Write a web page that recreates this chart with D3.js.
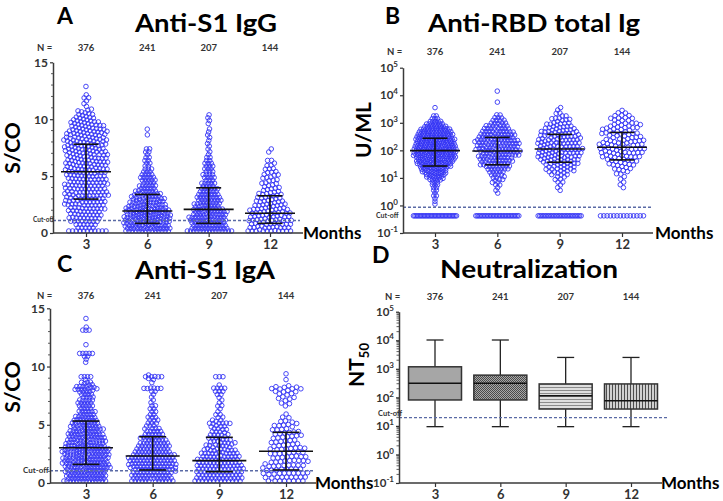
<!DOCTYPE html>
<html><head><meta charset="utf-8">
<script src="https://cdn.jsdelivr.net/npm/d3@7"></script>
<style>
body{margin:0;background:#fff;}
svg{display:block;font-family:Lato,"Open Sans",sans-serif;}
</style></head><body>
<svg id="chart" width="723" height="501"></svg>
<script>
// ---------------- DATA ----------------
const months = ["3", "6", "9", "12"];
const groupN = [376, 241, 207, 144];

// Anti-S1 IgG (S/CO): subjects per 0.25-wide bin, first bin starts at 0
const igGBin = 0.25;
const igGCounts3 = [12,4,2,4,8,8,8,8,9,9,9,9,11,11,11,10,10,10,9,9,9,9,10,10,10,10,10,9,9,9,9,10,10,11,10,10,9,8,7,6,5,4,3,1,1,1,1,2,1,0,0,1];
const igGCounts6 = [14,14,14,16,16,16,16,15,13,12,11,10,9,8,7,5,6,4,5,5,4,3,3,2,2,2,2,1,2,2,0,0,0,0,1,0,1];
const igGCounts9 = [16,12,11,12,12,12,12,12,8,8,7,8,8,7,6,6,4,5,3,4,4,3,3,3,3,2,2,1,1,1,1,1,1,1,1,1,1,0,1,1,1,1];
const igGCounts12 = [10,9,9,9,9,9,10,8,7,6,6,6,6,4,4,4,3,3,3,3,3,3,3,2,1,2,0,0,1,1];
const igGMedian = [5.38, 1.93, 2.08, 1.73];
const igGQ1 = [2.98, 0.85, 0.85, 0.85];
const igGQ3 = [7.8, 3.39, 3.97, 3.27];
const igGCutoff = 1.1;

// Anti-RBD total Ig (U/mL): subjects per 0.1-decade bin, first bin starts at log10 = rbdStart
const rbdBin = 0.1;
const rbdStart = [0.0, 0.4, 0.5, 0.6];
const rbdCounts3 = [1,1,1,2,1,2,2,3,3,5,7,9,10,12,14,16,18,20,22,22,22,22,22,20,18,16,14,12,9,7,5,3,2,0,0,1];
const rbdCounts6 = [1,1,1,2,2,3,3,4,5,7,8,9,10,11,12,13,14,14,14,13,12,11,10,8,7,5,4,3,2,0,0,0,0,1,0,0,0,1];
const rbdCounts9 = [1,1,1,2,2,2,3,5,7,7,8,9,9,10,11,11,11,11,10,10,9,8,7,6,5,4,3,2,2,1,1];
const rbdCounts12 = [1,1,1,1,1,2,2,3,3,5,6,6,7,8,10,9,8,7,7,6,6,6,5,5,4,4,3,2,1];
const rbdNegative = [32, 30, 28, 14];   // below cut-off, plotted on one row
const rbdNegValue = 0.42;
const rbdMedian = [98, 95, 112, 129];
const rbdQ1 = [27, 30, 37, 45];
const rbdQ3 = [275, 295, 380, 447];
const rbdCutoff = 0.86;

// Anti-S1 IgA (S/CO): subjects per 0.25-wide bin, first bin starts at 0
const igABin = 0.25;
const igACounts3 = [14,12,12,13,14,15,16,18,17,16,16,16,13,12,13,13,11,10,10,10,9,8,7,5,6,4,5,5,5,4,4,4,13,3,3,1,4,0,0,0,0,1,1,2,5,0,0,1,0,0,0,0,3,1,0,0,1];
const igACounts6 = [12,12,12,12,13,14,15,15,14,12,11,10,10,9,7,7,6,5,4,3,3,3,3,2,2,2,2,1,1,1,1,2,6,0,1,1,7];
const igACounts9 = [14,13,12,12,13,13,13,13,9,8,8,7,6,6,5,5,5,4,4,4,7,2,2,2,1,1,2,1,1,1,2,3,4,1,0,0,3];
const igACounts12 = [7,7,7,7,7,7,7,6,6,5,5,5,5,5,5,4,4,4,4,4,5,0,2,1,0,0,1,2,2,3,3,3,9,0,0,1,0,1];
const igAMedian = [3.03, 2.32, 1.92, 2.72];
const igAQ1 = [1.6, 1.12, 0.97, 1.12];
const igAQ3 = [5.32, 3.97, 3.92, 4.35];
const igACutoff = 1.05;

// Neutralization NT50 (box and whiskers, min to max)
const ntMin = [9.4, 9.4, 9.4, 9.4];
const ntQ1 = [81, 81, 39, 39];
const ntMedian = [310, 310, 114, 76];
const ntQ3 = [1175, 600, 295, 295];
const ntMax = [10200, 10200, 2500, 2500];
const ntCutoff = 19.5;

const linTicks = [0, 5, 10, 15];
const logTicks = [0.1, 1, 10, 100, 1000, 10000, 100000];

// ---------------- helpers ----------------
function expandLinear(counts, bin) {
  const out = [];
  counts.forEach((c, i) => { for (let k = 0; k < c; k++) out.push((i + 0.5) * bin); });
  return out;
}
function expandLog(counts, start, bin) {
  const out = [];
  counts.forEach((c, i) => { for (let k = 0; k < c; k++) out.push(Math.pow(10, start + (i + 0.5) * bin)); });
  return out;
}

function runSwarm(vals, y, cx, r, floor) {
  const nodes = vals.map((v, i) => ({ty: y(v), y: y(v), x: cx + ((i % 5) - 2) * 0.6}));
  const sim = d3.forceSimulation(nodes)
    .alphaDecay(0.03)
    .force("y", d3.forceY(d => d.ty).strength(0.9))
    .force("x", d3.forceX(cx).strength(0.06))
    .force("c", d3.forceCollide(r).iterations(2))
    .stop();
  for (let k = 0; k < 140; k++) {
    sim.tick();
    for (const n of nodes) if (n.y > floor) { n.y = floor; n.vy = 0; }
  }
  return nodes;
}
function swarm(vals, y, cx, maxHalf, floor) {
  let hi = 2.6, lo = 0.8;
  const spread = ns => d3.max(ns, d => Math.abs(d.x - cx)) || 0;
  let best = runSwarm(vals, y, cx, hi, floor);
  if (spread(best) <= maxHalf) return best;
  best = null;
  for (let it = 0; it < 5; it++) {
    const mid = (hi + lo) / 2;
    const ns = runSwarm(vals, y, cx, mid, floor);
    if (spread(ns) <= maxHalf) { best = ns; lo = mid; } else { hi = mid; }
  }
  return best || runSwarm(vals, y, cx, lo, floor);
}

const svg = d3.select("#chart");
const FONT = "Lato, 'Open Sans', sans-serif";
const DOT = "#3434f5";

function txt(x, y, s, size, opts = {}) {
  const t = svg.append("text").attr("x", x).attr("y", y).text(s)
    .style("font-family", FONT).style("font-size", size + "px")
    .style("font-weight", opts.weight || 700)
    .attr("fill", opts.fill || "#000")
    .attr("text-anchor", opts.anchor || "start");
  if (opts.len) t.attr("textLength", opts.len).attr("lengthAdjust", "spacingAndGlyphs");
  return t;
}
function vtxt(x, y, s, size) {
  return svg.append("text").attr("transform", `translate(${x},${y}) rotate(-90)`)
    .attr("text-anchor", "middle").text(s)
    .style("font-family", FONT).style("font-size", size + "px").style("font-weight", 700);
}

function styleAxis(g, fs) {
  g.attr("font-family", null).attr("font-size", null);
  g.selectAll("text").style("font-family", FONT).style("font-size", fs + "px")
    .style("font-weight", 700).attr("fill", "#333");
  g.selectAll(".tick line").attr("stroke", "#333").attr("stroke-width", 1.2);
  g.select(".domain").attr("stroke", "#3a3a3a").attr("stroke-width", 1.5);
}

function drawAxes(p) {
  const ya = svg.append("g").attr("transform", `translate(${p.ax},0)`);
  if (p.log) {
    ya.call(d3.axisLeft(p.y).tickValues(logTicks).tickSize(3).tickPadding(2).tickSizeOuter(0).tickFormat(() => "10"));
    styleAxis(ya, 11.5);
    ya.selectAll(".tick text").append("tspan").attr("dy", -5).style("font-size", "8px")
      .text(d => String(Math.round(Math.log10(d))));
    if (p.minor) {
      const mins = [];
      for (let e = -1; e < 5; e++) for (let m = 2; m < 10; m++) mins.push(m * Math.pow(10, e));
      ya.selectAll(".mt").data(mins).join("line").attr("class", "mt")
        .attr("x1", -2.5).attr("x2", 0).attr("y1", d => p.y(d)).attr("y2", d => p.y(d))
        .attr("stroke", "#333").attr("stroke-width", 0.8);
    }
  } else {
    ya.call(d3.axisLeft(p.y).tickValues(linTicks).tickSize(3).tickPadding(2).tickSizeOuter(0));
    styleAxis(ya, 12);
    const mins = d3.range(1, 15).filter(v => v % 5 !== 0);
    ya.selectAll(".mt").data(mins).join("line").attr("class", "mt")
      .attr("x1", -2).attr("x2", 0).attr("y1", d => p.y(d)).attr("y2", d => p.y(d))
      .attr("stroke", "#333").attr("stroke-width", 0.8);
  }
  const xa = svg.append("g").attr("transform", `translate(0,${p.ay})`);
  xa.call(d3.axisBottom(p.x).tickSize(4).tickPadding(3).tickSizeOuter(0));
  styleAxis(xa, 13);
  xa.select(".domain").remove();
  svg.append("line").attr("x1", p.ax).attr("x2", p.xEnd).attr("y1", p.ay).attr("y2", p.ay)
    .attr("stroke", "#3a3a3a").attr("stroke-width", 1.5);
  txt(p.mx, p.my, "Months", 17);
  txt(p.nx, p.ny, "N =", 9.5, {fill: "#333"});
  months.forEach((m, i) => txt(p.x(m), p.ny, String(groupN[i]), 9.5, {anchor: "middle", fill: "#333"}));
}

function cutoff(p, v, lx, ly, ls) {
  svg.append("line").attr("x1", p.ax).attr("x2", p.cEnd).attr("y1", p.y(v)).attr("y2", p.y(v))
    .attr("stroke", "#5a6aa5").attr("stroke-width", 1.4).attr("stroke-dasharray", "3,2");
  txt(lx, ly, "Cut-off", ls, {fill: "#333"});
}

function dotPanel(p, groups) {
  const gDots = svg.append("g");
  groups.forEach((vals, i) => {
    const cx = p.x(months[i]);
    const nodes = swarm(vals, p.y, cx, p.maxHalf, p.floor);
    gDots.selectAll(null).data(nodes).join("circle")
      .attr("cx", d => d.x).attr("cy", d => d.y).attr("r", 2.3)
      .attr("fill", "none").attr("stroke", DOT).attr("stroke-width", 0.9);
  });
  return gDots;
}
function summaryLines(p, med, q1, q3) {
  const g = svg.append("g").attr("stroke", "#111").attr("stroke-width", 1.6);
  months.forEach((m, i) => {
    const cx = p.x(m);
    g.append("line").attr("x1", cx).attr("x2", cx).attr("y1", p.y(q1[i])).attr("y2", p.y(q3[i]));
    g.append("line").attr("x1", cx - p.medHalf).attr("x2", cx + p.medHalf).attr("y1", p.y(med[i])).attr("y2", p.y(med[i]));
    [q1[i], q3[i]].forEach(v => g.append("line").attr("x1", cx - p.capHalf).attr("x2", cx + p.capHalf)
      .attr("y1", p.y(v)).attr("y2", p.y(v)));
  });
}

// ---------------- Panel A ----------------
const pA = {x: d3.scalePoint(months, [86, 270]), y: d3.scaleLinear([0, 15], [233, 62.3]),
  ax: 53, ay: 233, xEnd: 303, cEnd: 300, mx: 303, my: 239, nx: 37, ny: 51,
  maxHalf: 23.5, floor: 231, medHalf: 25, capHalf: 12.5};
txt(57, 24, "A", 23);
txt(135, 32, "Anti-S1 IgG", 25, {len: 142});
vtxt(20, 148, "S/CO", 21);
dotPanel(pA, [igGCounts3, igGCounts6, igGCounts9, igGCounts12].map(c => expandLinear(c, igGBin)));
cutoff(pA, igGCutoff, 33, 222, 6.5);
summaryLines(pA, igGMedian, igGQ1, igGQ3);
drawAxes(pA);

// ---------------- Panel B ----------------
const pB = {x: d3.scalePoint(months, [435, 622]), y: d3.scaleLog([0.1, 1e5], [233, 67.7]),
  log: true, minor: false, ax: 403, ay: 233, xEnd: 653, cEnd: 652, mx: 655, my: 239, nx: 387, ny: 55,
  maxHalf: 23, floor: 1e9, medHalf: 25, capHalf: 12.5};
txt(385, 24, "B", 23);
txt(428, 32, "Anti-RBD total Ig", 25, {len: 212});
vtxt(371, 130, "U/ML", 21);
const gB = dotPanel(pB, [rbdCounts3, rbdCounts6, rbdCounts9, rbdCounts12].map((c, i) => expandLog(c, rbdStart[i], rbdBin)));
months.forEach((m, i) => {
  const cx = pB.x(m), k = rbdNegative[i];
  const step = Math.min(4.6, 43 / (k - 1));
  gB.selectAll(null).data(d3.range(k)).join("circle")
    .attr("cx", j => cx + (j - (k - 1) / 2) * step).attr("cy", pB.y(rbdNegValue)).attr("r", 2.3)
    .attr("fill", "none").attr("stroke", DOT).attr("stroke-width", 0.9);
});
cutoff(pB, rbdCutoff, 376, 218, 7);
summaryLines(pB, rbdMedian, rbdQ1, rbdQ3);
drawAxes(pB);

// ---------------- Panel C ----------------
const pC = {x: d3.scalePoint(months, [86, 286]), y: d3.scaleLinear([0, 15], [483, 308.3]),
  ax: 50, ay: 483, xEnd: 316, cEnd: 314, mx: 315, my: 489, nx: 37, ny: 299,
  maxHalf: 25, floor: 481, medHalf: 27, capHalf: 13.5};
txt(57, 272, "C", 23);
txt(135, 279, "Anti-S1 IgA", 25, {len: 140});
vtxt(20, 387, "S/CO", 21);
dotPanel(pC, [igACounts3, igACounts6, igACounts9, igACounts12].map(c => expandLinear(c, igABin)));
cutoff(pC, igACutoff, 23, 473, 8);
summaryLines(pC, igAMedian, igAQ1, igAQ3);
drawAxes(pC);

// ---------------- Panel D ----------------
const pD = {x: d3.scalePoint(months, [435, 631]), y: d3.scaleLog([0.1, 1e5], [483, 311.7]),
  log: true, minor: true, ax: 399, ay: 483, xEnd: 662, cEnd: 668, mx: 661, my: 489, nx: 385, ny: 300};
txt(372, 263, "D", 23);
txt(440, 278, "Neutralization", 25, {len: 178});
const ntLab = svg.append("text").attr("transform", "translate(364,365) rotate(-90)").attr("text-anchor", "middle")
  .style("font-family", FONT).style("font-size", "21px").style("font-weight", 700);
ntLab.append("tspan").text("NT");
ntLab.append("tspan").attr("dy", 5).style("font-size", "13px").text("50");

const defs = svg.append("defs");
const pc = defs.append("pattern").attr("id", "chk").attr("width", 2).attr("height", 2).attr("patternUnits", "userSpaceOnUse");
pc.append("rect").attr("width", 2).attr("height", 2).attr("fill", "#a8a8a8");
pc.append("rect").attr("width", 1).attr("height", 1).attr("fill", "#4a4a4a");
pc.append("rect").attr("x", 1).attr("y", 1).attr("width", 1).attr("height", 1).attr("fill", "#4a4a4a");
const ph = defs.append("pattern").attr("id", "hst").attr("width", 4).attr("height", 3).attr("patternUnits", "userSpaceOnUse");
ph.append("rect").attr("width", 4).attr("height", 3).attr("fill", "#dedede");
ph.append("rect").attr("width", 4).attr("height", 1).attr("fill", "#8a8a8a");
const pv = defs.append("pattern").attr("id", "vst").attr("width", 3).attr("height", 4).attr("patternUnits", "userSpaceOnUse");
pv.append("rect").attr("width", 3).attr("height", 4).attr("fill", "#d0d0d0");
pv.append("rect").attr("width", 1).attr("height", 4).attr("fill", "#4e4e4e");
const boxFill = ["#a6a6a6", "url(#chk)", "url(#hst)", "url(#vst)"];

const gBox = svg.append("g");
months.forEach((m, i) => {
  const cx = pD.x(m), y = pD.y;
  gBox.append("line").attr("x1", cx).attr("x2", cx).attr("y1", y(ntMax[i])).attr("y2", y(ntQ3[i])).attr("stroke", "#222").attr("stroke-width", 1.3);
  gBox.append("line").attr("x1", cx).attr("x2", cx).attr("y1", y(ntQ1[i])).attr("y2", y(ntMin[i])).attr("stroke", "#222").attr("stroke-width", 1.3);
  [ntMax[i], ntMin[i]].forEach(v => gBox.append("line").attr("x1", cx - 8.5).attr("x2", cx + 8.5)
    .attr("y1", y(v)).attr("y2", y(v)).attr("stroke", "#222").attr("stroke-width", 1.3));
  gBox.append("rect").attr("x", cx - 26.5).attr("width", 53).attr("y", y(ntQ3[i])).attr("height", y(ntQ1[i]) - y(ntQ3[i]))
    .attr("fill", boxFill[i]).attr("stroke", "#333").attr("stroke-width", 1.5);
  gBox.append("line").attr("x1", cx - 26.5).attr("x2", cx + 26.5).attr("y1", y(ntMedian[i])).attr("y2", y(ntMedian[i]))
    .attr("stroke", "#111").attr("stroke-width", 1.5);
});
cutoff(pD, ntCutoff, 378, 416, 7.5);
drawAxes(pD);
</script>
</body></html>
